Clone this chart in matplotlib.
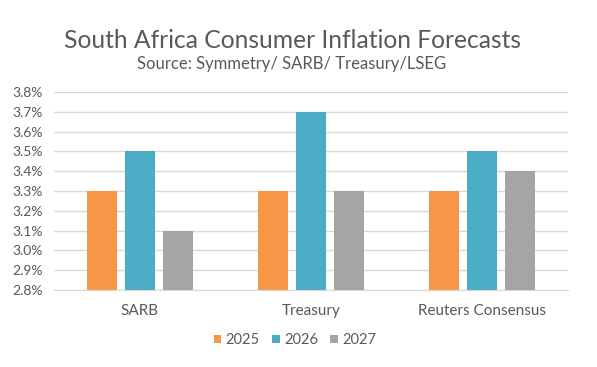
import matplotlib
matplotlib.use("Agg")
import matplotlib.pyplot as plt
import numpy as np
from matplotlib.ticker import FixedLocator, FuncFormatter

categories = ["SARB", "Treasury", "Reuters Consensus"]
series_names = ["2025", "2026", "2027"]
v2025 = [3.3, 3.3, 3.3]
v2026 = [3.5, 3.7, 3.5]
v2027 = [3.1, 3.3, 3.4]
yticks = [2.8, 2.9, 3.0, 3.1, 3.2, 3.3, 3.4, 3.5, 3.6, 3.7, 3.8]
colors = ["#F79646", "#4BACC6", "#A5A5A5"]

plt.rcParams['font.family'] = ['Lato', 'DejaVu Sans']
txt = "#595959"

fig = plt.figure(figsize=(5.97, 3.67), dpi=100)
ax = fig.add_axes([54/597, 1-290/367, (568-54)/597, (290-92)/367])

x = np.arange(len(categories))
w = 0.175
off = 0.222
for i, (vals, name) in enumerate(zip([v2025, v2026, v2027], series_names)):
    ax.bar(x + (i-1)*off, np.array(vals) - 2.8, bottom=2.8, width=w,
           color=colors[i], label=name, zorder=3)

ax.set_xlim(-0.5, 2.5)
ax.set_ylim(2.8, 3.8)
ax.yaxis.set_major_locator(FixedLocator(yticks))
ax.yaxis.set_major_formatter(FuncFormatter(lambda v, p: f"{v:.1f}%"))
ax.grid(axis='y', color="#D9D9D9", linewidth=1, zorder=0)
for s in ['top', 'right', 'left']:
    ax.spines[s].set_visible(False)
ax.spines['bottom'].set_color("#D9D9D9")
ax.spines['bottom'].set_zorder(4)
ax.set_xticks(x)
ax.set_xticklabels(categories)
ax.tick_params(axis='both', length=0, colors=txt, labelsize=10)
ax.tick_params(axis='x', pad=10, labelsize=11)
ax.tick_params(axis='y', pad=8)

fig.text(292/597, 1-40/367, "South Africa Consumer Inflation Forecasts", ha='center', va='center',
         fontsize=17.7, color=txt)
fig.text(292/597, 1-64/367, "Source: Symmetry/ SARB/ Treasury/LSEG", ha='center', va='center',
         fontsize=12, color=txt)

leg = fig.legend(loc='center', bbox_to_anchor=(295/597, 1-340/367), ncol=3, frameon=False,
                 fontsize=10.5, handlelength=0.5, handleheight=0.5, handletextpad=0.3,
                 columnspacing=0.85, labelcolor=txt)

fig.savefig("out.png", dpi=100)
